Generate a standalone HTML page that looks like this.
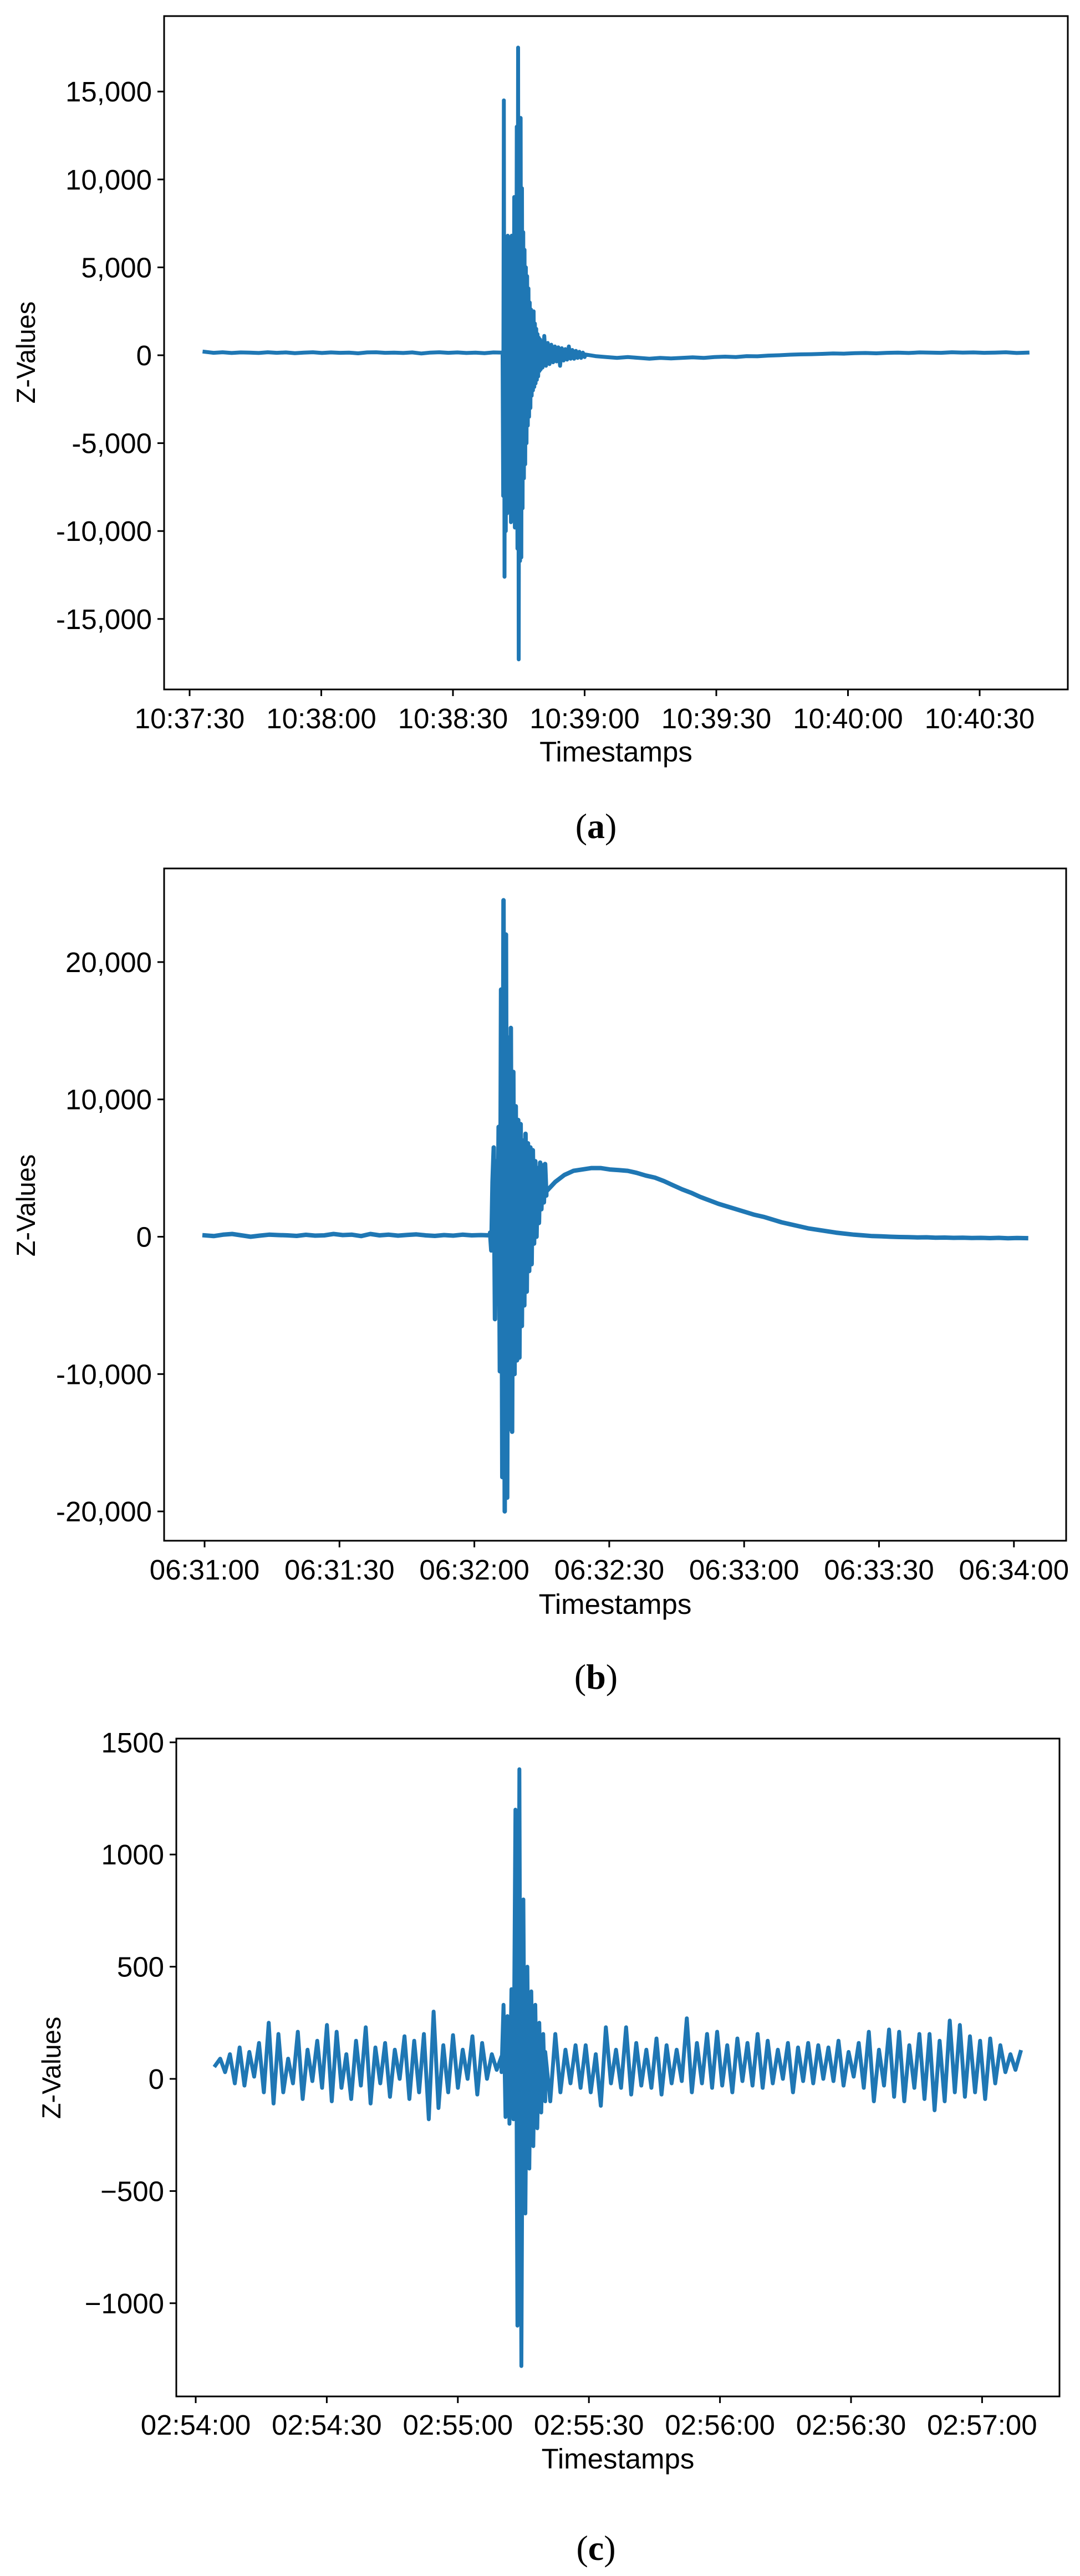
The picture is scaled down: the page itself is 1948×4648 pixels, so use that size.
<!DOCTYPE html>
<html><head><meta charset="utf-8"><style>
html,body{margin:0;padding:0;background:#fff;}
svg{display:block;}
text{font-family:"Liberation Sans",sans-serif;fill:#000;}
.cap{font-family:"Liberation Serif",serif;font-size:64px;}
</style></head><body>
<svg id="fig" width="1948" height="4648" viewBox="0 0 1948 4648" xmlns="http://www.w3.org/2000/svg"></svg>
<script>
// ---------- data ----------
const aSegTimes = [[3.4,71.3],[71.3,80],[80,90],[90,190.9]];
const aPre = [200,140,170,130,160,150,130,170,140,160,120,150,170,130,160,140,150,110,160,170,140,150,130,160,100,150,170,140,160,130,150,120,160,150];
const aBurst = [100,-8000,14500,-12600,6500,-10000,6000,-9000,6800,-8000,6700,-6000,6500,-9500,6800,-8500,6500,-6300,9000,-9800,6200,-7000,13000,-11000,17500,-17300,12400,-11700,13500,-11500,9500,-8700,7000,-7000,6000,-6200,5000,-5000,4500,-4000,3800,-3500,3000,-3000,2600,-2300,2200,-2000,2500,-1800,1800,-1600,1500,-1400,1200,-1200,1000,-900,900,-800];
const aTail = [800,-700,1100,-600,700,-500,600,-400,500,-350,450,-600,400,-300,350,-250,500,-200,300,-200,250,-150,200,-150,150,-100];
const aPost = [50,-50,-100,-150,-100,-150,-200,-150,-180,-150,-120,-150,-100,-80,-100,-50,-60,-20,0,30,50,60,80,100,90,120,130,110,140,150,130,160,150,140,170,150,160,140,150,170,130,150];
const aYTicks = [15000,10000,5000,0,-5000,-10000,-15000];
const aYLabels = ["15,000","10,000","5,000","0","-5,000","-10,000","-15,000"];
const aXTicks = [0,30,60,90,120,150,180];
const aXLabels = ["10:37:30","10:38:00","10:38:30","10:39:00","10:39:30","10:40:00","10:40:30"];

const bSegTimes = [[0,63.5],[63.5,76],[76,182.7]];
const bPre = [100,50,150,200,100,0,80,150,120,100,60,140,80,100,200,120,150,50,200,100,150,80,130,170,100,60,120,80,150,100,120,100];
const bBurst = [300,-1000,4000,6500,-6000,5500,-4000,8000,-9800,18000,-17500,24500,-20000,22000,-19000,14500,-14000,15200,-14200,12000,-10000,9500,-9000,8500,-8800,8200,-6500,7000,-5000,7500,-4000,6800,-2500,6500,-2000,6300,-500,5500,0,5000,1000,5400,2000,5200,2500,5300,3000];
const bPost = [3300,4000,4500,4800,4900,5000,5000,4900,4850,4800,4650,4450,4300,4050,3750,3450,3200,2900,2650,2400,2200,2000,1800,1600,1450,1250,1050,900,750,600,500,400,300,220,150,100,50,30,0,-20,-30,-50,-40,-70,-60,-80,-70,-90,-80,-100,-80,-110,-90,-100];
const bYTicks = [20000,10000,0,-10000,-20000];
const bYLabels = ["20,000","10,000","0","-10,000","-20,000"];
const bXTicks = [0,30,60,90,120,150,180];
const bXLabels = ["06:31:00","06:31:30","06:32:00","06:32:30","06:33:00","06:33:30","06:34:00"];

const cSegTimes = [[4.5,70],[70,80],[80,188.8]];
const cPre = [60,90,30,110,-20,140,-30,120,10,160,-60,250,-110,200,-60,90,-20,210,-90,130,-10,170,-40,240,-100,210,-40,110,-90,170,-30,230,-110,140,-20,160,-80,130,0,190,-90,170,-60,200,-180,300,-130,150,-60,195,-40,130,0,190,-70,160,0,110,40,100];
const cBurst = [30,330,-170,280,-200,400,-180,1200,-1100,1380,-1280,800,-600,500,-400,390,-300,330,-220,250,-150,200,-100];
const cPost = [120,-100,200,-60,130,-20,150,-40,150,-60,110,-120,230,-20,130,-40,230,-70,160,-30,130,-40,180,-70,150,-20,130,-10,270,-60,160,-20,200,-40,210,-30,150,-60,180,-10,160,-30,200,-40,170,-20,130,0,160,-60,140,-10,160,-20,150,0,140,-10,170,-30,120,10,160,-40,210,-100,130,-30,220,-80,210,-100,150,-40,200,-90,200,-140,170,-100,260,-60,240,-80,190,-60,170,-90,180,-20,150,30,110,40,120];
const cYTicks = [1500,1000,500,0,-500,-1000];
const cYLabels = ["1500","1000","500","0","\u2212500","\u22121000"];
const cXTicks = [0,30,60,90,120,150,180];
const cXLabels = ["02:54:00","02:54:30","02:55:00","02:55:30","02:56:00","02:56:30","02:57:00"];

// ---------- drawing ----------
const NS = "http://www.w3.org/2000/svg";
const svg = document.getElementById("fig");
function mk(tag, attrs, parent){
  const e = document.createElementNS(NS, tag);
  for (const k in attrs) e.setAttribute(k, attrs[k]);
  (parent||svg).appendChild(e);
  return e;
}
function seriesPoints(segTimes, segVals){
  const pts = [];
  segTimes.forEach((st, i) => {
    const vals = segVals[i];
    const n = vals.length;
    vals.forEach((v, j) => {
      const t = st[0] + (st[1]-st[0]) * (n>1 ? j/(n-1) : 0);
      pts.push([t, v]);
    });
  });
  return pts;
}
function drawChart(cfg){
  const g = mk("g", {});
  
  
  const xs = t => cfg.x0 + t * cfg.pxPerSec;
  const ys = v => cfg.y0 - v * cfg.pxPerUnit;
  const pts = seriesPoints(cfg.segTimes, cfg.segVals);
  const d = pts.map((p,i)=> (i?"L":"M") + xs(p[0]).toFixed(1) + " " + ys(p[1]).toFixed(1)).join(" ");
  const path = mk("path", {d:d, fill:"none", stroke:"#1f77b4", "stroke-width":cfg.lw, "stroke-linejoin":"round", "stroke-linecap":"square"}, g);
  
  
  const fr = mk("rect", {x:cfg.L, y:cfg.T, width:cfg.R-cfg.L, height:cfg.B-cfg.T, fill:"none", stroke:"#000", "stroke-width":3}, g);
  
  
  cfg.yTicks.forEach((v, i) => {
    const y = ys(v);
    const tk = mk("line", {x1:cfg.L-12, x2:cfg.L, y1:y, y2:y, stroke:"#000", "stroke-width":3}, g);
    
    
    const tl = mk("text", {x:cfg.L-22, y:y+18, "text-anchor":"end", "font-size":51}, g);
    tl.textContent = cfg.yLabels[i];
    
    
  });
  cfg.xTicks.forEach((t, i) => {
    const x = xs(t);
    const tk = mk("line", {x1:x, x2:x, y1:cfg.B, y2:cfg.B+12, stroke:"#000", "stroke-width":3}, g);
    
    
    const tl = mk("text", {x:x, y:cfg.xLabY, "text-anchor":"middle", "font-size":51}, g);
    tl.textContent = cfg.xLabels[i];
    
    
  });
  const xt = mk("text", {x:(cfg.L+cfg.R)/2, y:cfg.xTitleY, "text-anchor":"middle", "font-size":51}, g);
  xt.textContent = "Timestamps";
  
  
  const yt = mk("text", {x:0, y:0, "text-anchor":"middle", "font-size":47, transform:"translate("+(cfg.yTitleX+16)+","+cfg.yTitleY+") rotate(-90)"}, g);
  yt.textContent = "Z-Values";
  
  
  const cp = mk("text", {x:1075, y:cfg.capY, "text-anchor":"middle", "class":"cap"}, g);
  cp.innerHTML = '(<tspan font-weight="bold">'+cfg.cap+'</tspan>)';
  
  
}

drawChart({name:"chart-a", L:296, R:1926, T:29, B:1244, x0:342, pxPerSec:237.5/30, y0:641, pxPerUnit:158.6/5000, lw:7,
  segTimes:aSegTimes, segVals:[aPre,aBurst,aTail,aPost], yTicks:aYTicks, yLabels:aYLabels, xTicks:aXTicks, xLabels:aXLabels,
  xLabY:1314, xTitleY:1374, yTitleX:47, yTitleY:636, capY:1512, cap:"a"});
drawChart({name:"chart-b", L:296, R:1923, T:1567, B:2780, x0:369, pxPerSec:243.3/30, y0:2231.5, pxPerUnit:247.8/10000, lw:8,
  segTimes:bSegTimes, segVals:[bPre,bBurst,bPost], yTicks:bYTicks, yLabels:bYLabels, xTicks:bXTicks, xLabels:bXLabels,
  xLabY:2850, xTitleY:2912, yTitleX:47, yTitleY:2175, capY:3047, cap:"b"});
drawChart({name:"chart-c", L:318, R:1911, T:3137, B:4324, x0:353, pxPerSec:236.4/30, y0:3751, pxPerUnit:202.4/500, lw:7,
  segTimes:cSegTimes, segVals:[cPre,cBurst,cPost], yTicks:cYTicks, yLabels:cYLabels, xTicks:cXTicks, xLabels:cXLabels,
  xLabY:4393, xTitleY:4454, yTitleX:93, yTitleY:3731, capY:4619, cap:"c"});
</script>
</body></html>
